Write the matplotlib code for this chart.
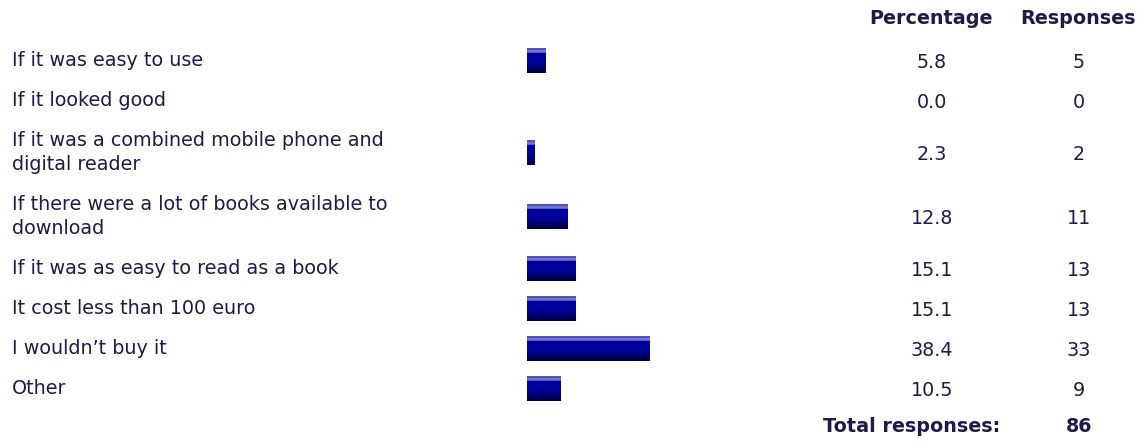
import matplotlib
matplotlib.use("Agg")
import matplotlib.pyplot as plt
import numpy as np
from matplotlib.colors import to_rgb
from matplotlib.transforms import blended_transform_factory

answers = [
    "If it was easy to use",
    "If it looked good",
    "If it was a combined mobile phone and\ndigital reader",
    "If there were a lot of books available to\ndownload",
    "If it was as easy to read as a book",
    "It cost less than 100 euro",
    "I wouldn\u2019t buy it",
    "Other",
]
percentages = [5.8, 0.0, 2.3, 12.8, 15.1, 15.1, 38.4, 10.5]
responses = [5, 0, 2, 11, 13, 13, 33, 9]
total = 86

W, H = 1148, 442
TXT = "#1c1c4a"
plt.rcParams["font.family"] = "DejaVu Sans"

fig = plt.figure(figsize=(W / 100, H / 100), dpi=100)
# bar axes: 0-100 % spans pixels 527..845, y in pixel rows
ax = fig.add_axes([527 / W, 0, 318 / W, 1])
ax.set_xlim(0, 100)
ax.set_ylim(H, 0)
ax.axis("off")

# row centres from line count: single line row 40px, two-line row 64px
heights = [40 + 24 * a.count("\n") for a in answers]
centers = []
y = 60.5 - heights[0] / 2
for h in heights:
    centers.append(y + h / 2)
    y += h

# vertical gradient for the bars (top to bottom)
stops = ["#5252b4", "#5252b4", "#7474cc", "#7474cc", "#5a5ab8", "#00009c",
         "#00009c", "#00009c", "#00009c", "#00009c", "#00009c", "#00009a",
         "#000098", "#000096", "#000094", "#00008e", "#000088", "#000080",
         "#000076", "#00006c", "#000062", "#00005a", "#000054", "#000050", "#00004c"]
grad = np.array([to_rgb(c) for c in stops])[:, None, :]

bh = 25
for c, p in zip(centers, percentages):
    if p > 0:
        ax.imshow(grad, extent=[0, p, c + bh / 2, c - bh / 2], aspect="auto",
                  interpolation="nearest", zorder=2)
ax.set_xlim(0, 100)
ax.set_ylim(H, 0)

tr = blended_transform_factory(fig.transFigure, ax.transData)
fs = 13.8
for c, a, p, r in zip(centers, answers, percentages, responses):
    ax.text(12 / W, c, a, transform=tr, ha="left", va="center", fontsize=fs,
            color=TXT, linespacing=1.3)
    ax.text(932 / W, c + 2, f"{p:.1f}", transform=tr, ha="center", va="center",
            fontsize=fs, color=TXT)
    ax.text(1079 / W, c + 2, str(r), transform=tr, ha="center", va="center",
            fontsize=fs, color=TXT)

ax.text(931 / W, 18, "Percentage", transform=tr, ha="center", va="center",
        fontsize=fs, color=TXT, fontweight="bold")
ax.text(1078 / W, 18, "Responses", transform=tr, ha="center", va="center",
        fontsize=fs, color=TXT, fontweight="bold")
ax.text(1000 / W, 427, "Total responses:", transform=tr, ha="right", va="center",
        fontsize=fs, color=TXT, fontweight="bold")
ax.text(1079 / W, 427, str(total), transform=tr, ha="center", va="center",
        fontsize=fs, color=TXT, fontweight="bold")

fig.savefig("out.png", dpi=100, facecolor="white")
